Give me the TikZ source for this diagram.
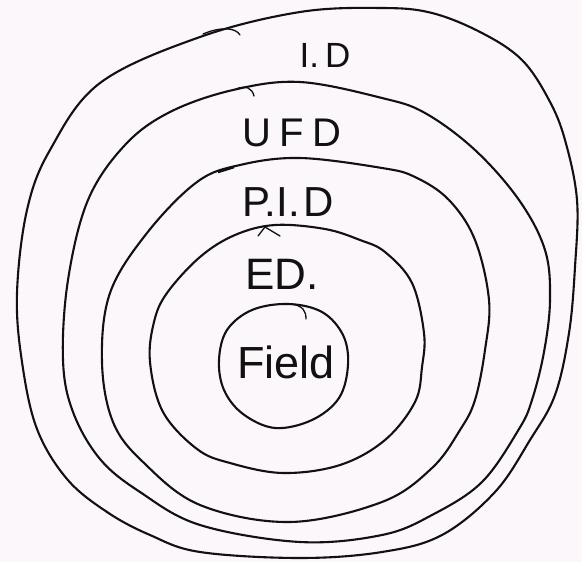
\documentclass[tikz,border=0pt]{standalone}
\usepackage{fontspec}
\setmainfont{Liberation Sans}
\definecolor{paper}{HTML}{FCF7FA}
\definecolor{ink}{HTML}{111111}
\tikzset{
  ring/.style={draw=ink, line width=2.1pt, smooth cycle, tension=0.6},
  tick/.style={draw=ink, line width=1.3pt, line cap=round},
  lab/.style={text=ink, inner sep=0pt, anchor=center}
}
\begin{document}
\begin{tikzpicture}[x=1pt,y=-1pt]
\fill[paper] (0,0) rectangle (582,562);
\useasboundingbox (0,0) rectangle (582,562);

% I.D (outer)
\draw[ring] plot coordinates {(300,12) (382,8) (432,13) (482,33) (522,60) (549,100) (565,140) (577,200) (575,267) (569,333) (555,395) (530,440) (495,492) (442,535) (382,552) (300,558) (200,552) (150,535) (107,512) (67,479) (37,429) (22,362) (17,293) (27,210) (50,150) (100,83) (200,37)};
% UFD
\draw[ring] plot coordinates {(300,82) (382,98) (425,113) (475,150) (519,200) (545,250) (550,300) (544,352) (532,400) (519,429) (482,482) (432,515) (382,535) (300,542) (200,525) (140,492) (100,459) (73,412) (63,360) (68,280) (88,200) (125,145) (170,112) (233,90)};
% P.I.D
\draw[ring] plot coordinates {(300,158) (382,168) (415,177) (449,200) (475,240) (489,300) (485,350) (475,400) (460,430) (432,468) (382,502) (290,522) (200,505) (143,462) (113,422) (102,362) (110,293) (147,233) (197,182) (240,165)};
% E.D
\draw[ring] plot coordinates {(275,225) (325,229) (360,240) (385,252) (412,283) (424,333) (422,367) (415,402) (385,440) (340,465) (283,473) (230,463) (197,449) (163,412) (150,362) (154,322) (167,293) (200,257) (235,235)};
% Field
\draw[ring] plot coordinates {(288,304) (322,312) (343,335) (348,365) (339,398) (312,420) (275,428) (243,414) (224,390) (219,360) (227,330) (252,310)};

% pen marks
\draw[tick] (203,34) .. controls (222,26) and (236,28) .. (240,35);
\draw[tick] (236,89) .. controls (246,85) and (252,88) .. (254,96);
\draw[tick] (258,236) -- (265,227) -- (280,236);
\draw[tick] (292,304) .. controls (303,306) and (306,311) .. (306,319);
\draw[ink, line width=2.6pt] (218,172) -- (234,167);

% labels
\node[lab, font=\fontsize{35}{38}\selectfont] (id) at (325,55) {I.\hspace{6pt}D};
\node[lab, font=\fontsize{40}{44}\selectfont] (ufd) at (292,133) {U\hspace{8pt}F\hspace{8pt}D};
\node[lab, font=\fontsize{42}{46}\selectfont] (pid) at (288,202) {P.I.\hspace{4pt}D};
\node[lab, font=\fontsize{44}{48}\selectfont] (ed) at (282,274) {ED.};
\node[lab, font=\fontsize{45}{50}\selectfont] (field) at (286,362) {Field};
\end{tikzpicture}
\end{document}
